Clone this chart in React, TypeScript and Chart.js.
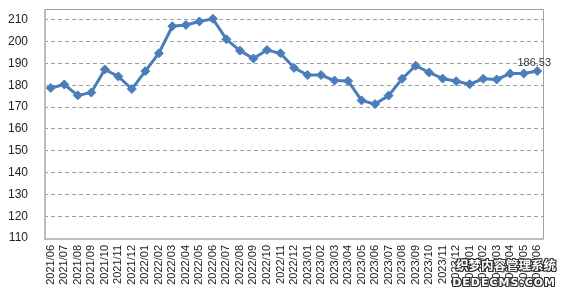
import React, { useEffect, useRef } from "react";
import { Chart, registerables } from "chart.js";

Chart.register(...registerables);

const months: string[] = [
  "2021/06", "2021/07", "2021/08", "2021/09", "2021/10", "2021/11", "2021/12",
  "2022/01", "2022/02", "2022/03", "2022/04", "2022/05", "2022/06", "2022/07",
  "2022/08", "2022/09", "2022/10", "2022/11", "2022/12",
  "2023/01", "2023/02", "2023/03", "2023/04", "2023/05", "2023/06", "2023/07",
  "2023/08", "2023/09", "2023/10", "2023/11", "2023/12",
  "2024/01", "2024/02", "2024/03", "2024/04", "2024/05", "2024/06",
];

const values: number[] = [
  178.8, 180.4, 175.4, 176.7, 187.3, 184.1, 178.3,
  186.5, 194.7, 207.1, 207.7, 209.3, 210.5, 201.1,
  195.9, 192.3, 196.2, 194.7, 188.0,
  184.7, 184.7, 182.2, 182.0, 173.1, 171.4, 175.3,
  183.0, 189.0, 185.9, 183.1, 181.9,
  180.5, 183.0, 182.7, 185.4, 185.4, 186.53,
];

const yTicks: number[] = [110, 120, 130, 140, 150, 160, 170, 180, 190, 200, 210];
const lastLabel = "186.53";
const yMin = 110;
const yMax = 215;

const lineColor = "#4A7EBB";

const frame = {
  id: "frame",
  afterDraw(chart: any) {
    const { ctx, chartArea } = chart;
    ctx.save();
    ctx.setLineDash([]);
    ctx.strokeStyle = "#A0A0A0";
    ctx.lineWidth = 1;
    ctx.beginPath();
    ctx.moveTo(chartArea.left, chartArea.top + 0.5);
    ctx.lineTo(chartArea.right - 0.5, chartArea.top + 0.5);
    ctx.lineTo(chartArea.right - 0.5, chartArea.bottom);
    ctx.stroke();
    ctx.strokeStyle = "#BDBDBD";
    ctx.lineWidth = 2;
    ctx.beginPath();
    ctx.moveTo(chartArea.left + 1, chartArea.top);
    ctx.lineTo(chartArea.left + 1, chartArea.bottom + 2);
    ctx.moveTo(chartArea.left, chartArea.bottom + 1);
    ctx.lineTo(chartArea.right, chartArea.bottom + 1);
    ctx.stroke();
    const meta = chart.getDatasetMeta(0);
    const pt = meta.data[meta.data.length - 1];
    ctx.fillStyle = "#333333";
    ctx.font = "11px 'Liberation Sans', Arial, sans-serif";
    ctx.textAlign = "center";
    ctx.textBaseline = "bottom";
    ctx.fillText(lastLabel, pt.x - 3, pt.y - 3);
    ctx.restore();
  },
};

export default function App() {
  const ref = useRef<HTMLCanvasElement | null>(null);

  useEffect(() => {
    if (!ref.current) return;
    const chart = new Chart(ref.current, {
      type: "line",
      data: {
        labels: months,
        datasets: [
          {
            data: values,
            borderColor: lineColor,
            backgroundColor: lineColor,
            borderWidth: 3,
            pointStyle: "rectRot",
            pointRadius: 4.5,
            pointBorderWidth: 1,
            pointBackgroundColor: lineColor,
            pointBorderColor: lineColor,
            tension: 0,
          },
        ],
      },
      options: {
        animation: false,
        responsive: false,
        maintainAspectRatio: false,
        layout: { padding: { left: 0, right: 22, top: 9, bottom: 0 } },
        plugins: { legend: { display: false }, tooltip: { enabled: false } },
        scales: {
          x: {
            offset: true,
            grid: { display: false, drawTicks: false },
            border: { display: false },
            ticks: {
              autoSkip: false,
              minRotation: 90,
              maxRotation: 90,
              padding: 7,
              color: "#222222",
              font: { family: "'Liberation Sans', Arial, sans-serif", size: 11 },
            },
            afterFit(scale: any) {
              scale.height = 58;
              scale.paddingLeft = 0;
              scale.paddingRight = 0;
            },
          },
          y: {
            min: yMin,
            max: yMax,
            ticks: {
              padding: 16,
              color: "#222222",
              font: { family: "'Liberation Sans', Arial, sans-serif", size: 12 },
            },
            afterBuildTicks(scale: any) {
              scale.ticks = yTicks.map((v) => ({ value: v }));
            },
            grid: {
              color: (c: any) => (c.tick && c.tick.value === yMin ? "rgba(0,0,0,0)" : "#A0A0A0"),
              drawTicks: false,
              lineWidth: 1,
            },
            border: { display: false, dash: [4, 3] },
            afterFit(scale: any) {
              scale.width = 44;
              scale.paddingTop = 0;
              scale.paddingBottom = 0;
            },
          },
        },
      },
      plugins: [frame],
    } as any);
    return () => chart.destroy();
  }, []);

  const wm: React.CSSProperties = {
    position: "absolute",
    right: 10,
    color: "#ffffff",
    fontWeight: "bold",
    textShadow:
      "1px 0 #333, -1px 0 #333, 0 1px #333, 0 -1px #333, 1px 1px #333, -1px -1px #333, 1px -1px #333, -1px 1px #333",
    whiteSpace: "nowrap",
    lineHeight: 1,
  };

  return (
    <div style={{ position: "fixed", left: 0, top: 0, width: 566, height: 296, background: "#fff" }}>
      <canvas ref={ref} width={566} height={296} style={{ display: "block" }} />
      <div style={{ ...wm, top: 259, fontSize: 12.5, fontFamily: "'Noto Sans CJK SC', sans-serif" }}>
        织梦内容管理系统
      </div>
      <div style={{ ...wm, top: 277, fontSize: 11, letterSpacing: 1, fontFamily: "'DejaVu Sans', sans-serif" }}>
        DEDECMS.COM
      </div>
    </div>
  );
}
